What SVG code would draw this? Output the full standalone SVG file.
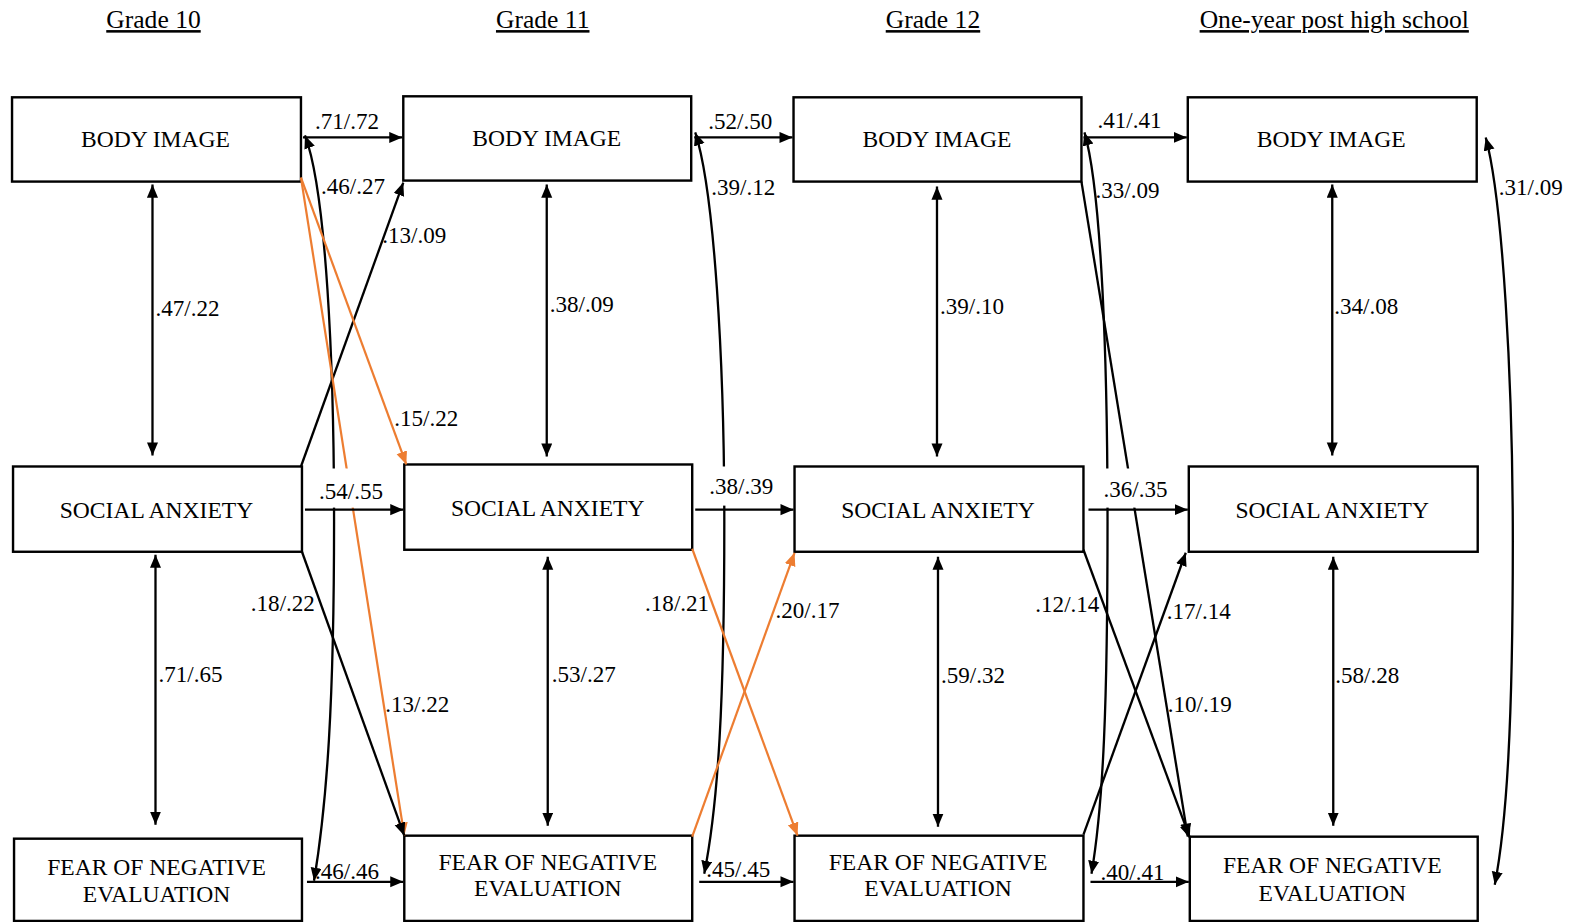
<svg xmlns="http://www.w3.org/2000/svg" width="1573" height="922" viewBox="0 0 1573 922">
<style>
.box{fill:#fff;stroke:#000;stroke-width:2.4}
.bt{font-family:"Liberation Serif","Times New Roman",serif;font-size:23.5px;text-anchor:middle;fill:#000}
.hd{font-family:"Liberation Serif","Times New Roman",serif;font-size:25.5px;text-anchor:middle;fill:#000;text-decoration:underline}
.lb{font-family:"Liberation Serif","Times New Roman",serif;font-size:23px;fill:#000}
.k{fill:none;stroke:#000;stroke-width:2.3}
.o{fill:none;stroke:#ED7D31;stroke-width:2.2}
.ka{marker-end:url(#ak)}
.kd{marker-start:url(#ak);marker-end:url(#ak)}
.oa{marker-end:url(#ao)}
.wb{fill:#fff}
</style>
<defs>
<marker id="ak" markerUnits="userSpaceOnUse" markerWidth="14" markerHeight="12" refX="13" refY="5.5" orient="auto-start-reverse"><path d="M0,0 L13,5.5 L0,11 z" fill="#000"/></marker>
<marker id="ao" markerUnits="userSpaceOnUse" markerWidth="14" markerHeight="12" refX="13" refY="5.5" orient="auto-start-reverse"><path d="M0,0 L13,5.5 L0,11 z" fill="#ED7D31"/></marker>
</defs>
<rect width="1573" height="922" fill="#fff"/>
<g transform="scale(1.0032)">
<g id="headers">
<text class="hd" x="153" y="28">Grade 10</text>
<text class="hd" x="541" y="28">Grade 11</text>
<text class="hd" x="930" y="28">Grade 12</text>
<text class="hd" x="1330" y="28">One-year post high school</text>
</g>
<g id="bi10"><rect class="box" x="12" y="97" width="288" height="84"/><text class="bt" x="155" y="147">BODY IMAGE</text></g>
<g id="bi11"><rect class="box" x="402" y="96" width="287" height="84"/><text class="bt" x="545" y="146">BODY IMAGE</text></g>
<g id="bi12"><rect class="box" x="791" y="97" width="287" height="84"/><text class="bt" x="934" y="147">BODY IMAGE</text></g>
<g id="bi13"><rect class="box" x="1184" y="97" width="288" height="84"/><text class="bt" x="1327" y="147">BODY IMAGE</text></g>
<g id="sa10"><rect class="box" x="13" y="465" width="288" height="85"/><text class="bt" x="156" y="516">SOCIAL ANXIETY</text></g>
<g id="sa11"><rect class="box" x="403" y="463" width="287" height="85"/><text class="bt" x="546" y="514">SOCIAL ANXIETY</text></g>
<g id="sa12"><rect class="box" x="792" y="465" width="288" height="85"/><text class="bt" x="935" y="516">SOCIAL ANXIETY</text></g>
<g id="sa13"><rect class="box" x="1185" y="465" width="288" height="85"/><text class="bt" x="1328" y="516">SOCIAL ANXIETY</text></g>
<g id="fne10"><rect class="box" x="14" y="836" width="287" height="82"/><text class="bt" x="156" y="872">FEAR OF NEGATIVE</text><text class="bt" x="156" y="899">EVALUATION</text></g>
<g id="fne11"><rect class="box" x="403" y="833" width="287" height="85"/><text class="bt" x="546" y="867">FEAR OF NEGATIVE</text><text class="bt" x="546" y="893">EVALUATION</text></g>
<g id="fne12"><rect class="box" x="792" y="833" width="288" height="85"/><text class="bt" x="935" y="867">FEAR OF NEGATIVE</text><text class="bt" x="935" y="893">EVALUATION</text></g>
<g id="fne13"><rect class="box" x="1186" y="834" width="287" height="84"/><text class="bt" x="1328" y="870">FEAR OF NEGATIVE</text><text class="bt" x="1328" y="898">EVALUATION</text></g>
<g id="connectors">
<path class="k kd" d="M304,135 C325,190 333,360 333,520 C333,700 326,800 313,878"/>
<path class="k kd" d="M693,132 C712,190 722,360 722,520 C722,700 716,800 702,871"/>
<path class="k kd" d="M1081,132 C1098,190 1104,360 1104,520 C1104,700 1100,800 1088,871"/>
<path class="k kd" d="M1481,137 C1498,200 1508,380 1508,540 C1508,720 1502,820 1490,882"/>
<path class="k ka" d="M300,465 L402,182"/>
<path class="o oa" d="M300,177 L405,463"/>
<path class="o oa" d="M300,177 L403,833"/>
<path class="k ka" d="M301,550 L403,833"/>
<path class="o oa" d="M690,547 L795,833"/>
<path class="o oa" d="M690,834 L792,551"/>
<path class="k ka" d="M1080,548 L1186,835"/>
<path class="k ka" d="M1080,832 L1182,551"/>
<path class="k ka" d="M1078,181 L1184,834"/>
<rect class="wb" x="316" y="467" width="68" height="39"/>
<rect class="wb" x="705" y="465" width="70" height="39"/>
<rect class="wb" x="1098" y="467" width="69" height="39"/>
<path class="k kd" d="M152,184 L152,454"/>
<path class="k kd" d="M155,553 L155,822"/>
<path class="k kd" d="M545,184 L545,455"/>
<path class="k kd" d="M546,555 L546,823"/>
<path class="k kd" d="M934,186 L934,455"/>
<path class="k kd" d="M935,555 L935,824"/>
<path class="k kd" d="M1328,184 L1328,454"/>
<path class="k kd" d="M1329,555 L1329,823"/>
<path class="k ka" d="M302,137 L401,137"/>
<path class="k ka" d="M692,137 L790,137"/>
<path class="k ka" d="M1080,137 L1183,137"/>
<path class="k ka" d="M304,508 L402,508"/>
<path class="k ka" d="M693,508 L791,508"/>
<path class="k ka" d="M1085,508 L1184,508"/>
<path class="k ka" d="M306,879 L402,879"/>
<path class="k ka" d="M697,879 L791,879"/>
<path class="k ka" d="M1087,879 L1185,879"/>
<text class="lb" x="314" y="129">.71/.72</text>
<text class="lb" x="706" y="129">.52/.50</text>
<text class="lb" x="1094" y="128">.41/.41</text>
<text class="lb" x="320" y="193">.46/.27</text>
<text class="lb" x="709" y="194">.39/.12</text>
<text class="lb" x="1092" y="197">.33/.09</text>
<text class="lb" x="1494" y="194">.31/.09</text>
<text class="lb" x="381" y="242">.13/.09</text>
<text class="lb" x="155" y="315">.47/.22</text>
<text class="lb" x="548" y="311">.38/.09</text>
<text class="lb" x="937" y="313">.39/.10</text>
<text class="lb" x="1330" y="313">.34/.08</text>
<text class="lb" x="393" y="425">.15/.22</text>
<text class="lb" x="318" y="497">.54/.55</text>
<text class="lb" x="707" y="492">.38/.39</text>
<text class="lb" x="1100" y="495">.36/.35</text>
<text class="lb" x="250" y="609">.18/.22</text>
<text class="lb" x="643" y="609">.18/.21</text>
<text class="lb" x="773" y="616">.20/.17</text>
<text class="lb" x="1032" y="610">.12/.14</text>
<text class="lb" x="1163" y="617">.17/.14</text>
<text class="lb" x="158" y="680">.71/.65</text>
<text class="lb" x="550" y="680">.53/.27</text>
<text class="lb" x="938" y="681">.59/.32</text>
<text class="lb" x="1331" y="681">.58/.28</text>
<text class="lb" x="384" y="710">.13/.22</text>
<text class="lb" x="1164" y="710">.10/.19</text>
<text class="lb" x="314" y="876">.46/.46</text>
<text class="lb" x="704" y="874">.45/.45</text>
<text class="lb" x="1097" y="877">.40/.41</text>
</g>
</g>
</svg>
